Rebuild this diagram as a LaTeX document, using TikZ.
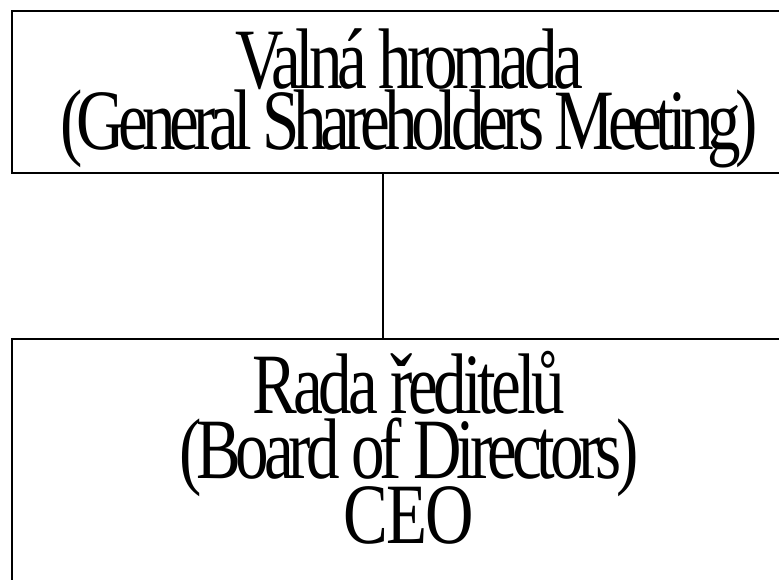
\documentclass[tikz,border=0pt]{standalone}
\usepackage{fontspec}
\setmainfont{Liberation Serif}
\newfontfamily\boxfont[FakeStretch=0.78,LetterSpace=-6]{Liberation Serif}
\newcommand\orgfont[1]{\boxfont\fontsize{86}{#1}\selectfont\lineskiplimit=-1000pt\relax\lineskip=0pt\relax}
\newcommand\spaced[2]{{\addfontfeature{LetterSpace=#1}#2}}
\begin{document}
\begin{tikzpicture}[x=1pt,y=-1pt,line join=miter]
	\tikzset{orgbox/.style={draw,line width=2pt,rectangle,inner sep=0pt,minimum width=794pt,align=center,
			font=\orgfont{#1}}}
	\useasboundingbox (0,0) rectangle (779,580);
	\node[orgbox=61,minimum height=162pt] (gsm) at (409,92)
		{\rule{0pt}{74pt}Valná hromada\\\spaced{-7.2}{(General Shareholders Meeting)}\rule[-20pt]{0pt}{20pt}};
	\node[orgbox=65,minimum height=258pt] (bod) at (409,468)
		{\rule{0pt}{70pt}\spaced{-5}{Rada ředitelů}\\(Board of Directors)\\\spaced{-2}{CEO}\rule[-50pt]{0pt}{50pt}};
	\draw[line width=2pt] ([xshift=-26pt]gsm.south) -- ([xshift=-26pt]bod.north);
\end{tikzpicture}
\end{document}
